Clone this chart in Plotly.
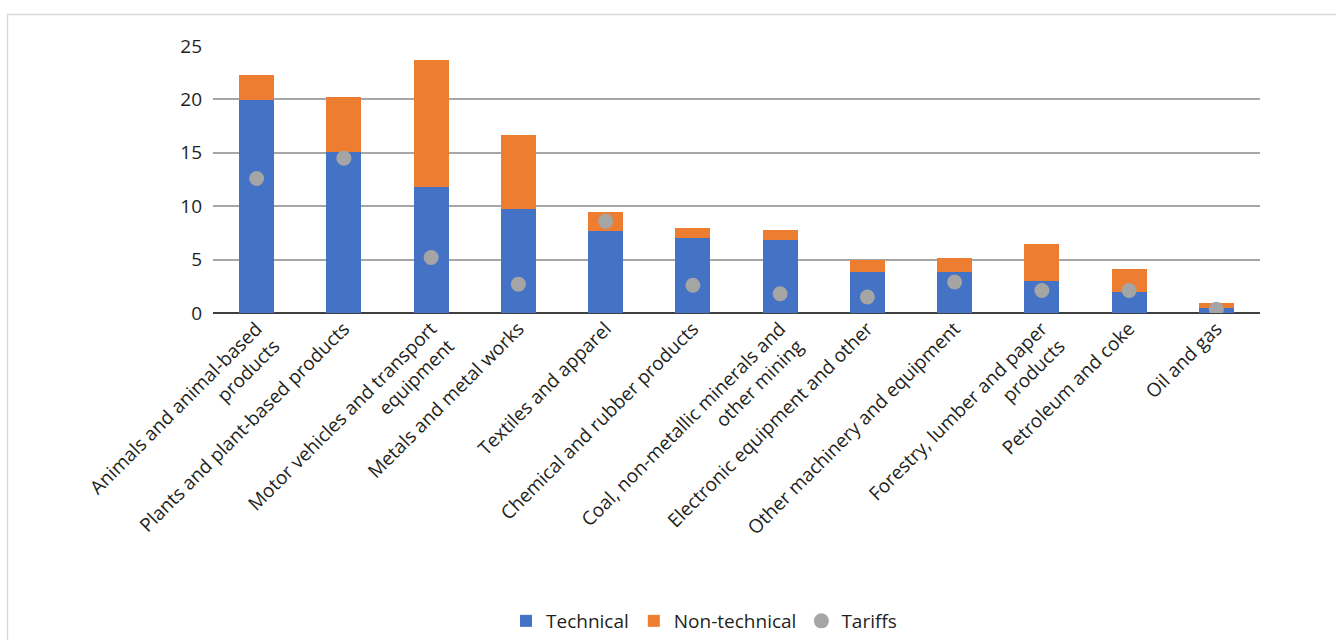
import plotly.graph_objects as go

categories = [
    "Animals and animal-based<br>products",
    "Plants and plant-based products",
    "Motor vehicles and transport<br>equipment",
    "Metals and metal works",
    "Textiles and apparel",
    "Chemical and rubber products",
    "Coal, non-metallic minerals and<br>other mining",
    "Electronic equipment and other",
    "Other machinery and equipment",
    "Forestry, lumber and paper<br>products",
    "Petroleum and coke",
    "Oil and gas",
]
technical = [19.9, 15.1, 11.8, 9.7, 7.7, 7.05, 6.85, 3.8, 3.8, 3.0, 1.95, 0.5]
non_technical = [2.4, 5.1, 11.9, 7.0, 1.75, 0.9, 0.95, 1.2, 1.35, 3.45, 2.2, 0.4]
tariffs = [12.6, 14.5, 5.2, 2.7, 8.6, 2.6, 1.8, 1.5, 2.9, 2.1, 2.1, 0.35]
y_ticks = [0, 5, 10, 15, 20, 25]

FONT = "Open Sans"
TXT = "#231F20"

W, H = 1336, 640
L, R, T, B = 213, 1260, 46, 313  # plot area in pixels

fig = go.Figure()
fig.add_bar(x=categories, y=technical, name="Technical", marker_color="#4472C4",
            marker_line_width=0)
fig.add_bar(x=categories, y=non_technical, name="Non-technical", marker_color="#ED7D31",
            marker_line_width=0)
fig.add_scatter(x=categories, y=tariffs, name="Tariffs", mode="markers",
                marker=dict(color="#A5A5A5", size=15))

def px_x(p):
    return (p - L) / (R - L)

def px_y(p):
    return (B - p) / (B - T)

fig.add_shape(type="rect", xref="paper", yref="paper",
              x0=px_x(7.5), x1=px_x(1345), y0=px_y(14.5), y1=px_y(660),
              line=dict(color="#D9D9D9", width=1.5), fillcolor="rgba(0,0,0,0)", layer="below")

fig.update_layout(
    width=W, height=H,
    margin=dict(l=L, r=W - R, t=T, b=H - B, autoexpand=False),
    barmode="stack", bargap=0.6,
    plot_bgcolor="white", paper_bgcolor="white",
    font=dict(family=FONT, size=19, color=TXT),
    showlegend=True,
    legend=dict(orientation="h", x=px_x(704), xanchor="center", y=px_y(621), yanchor="middle",
                font=dict(size=19, color=TXT), traceorder="normal", itemwidth=30,
                bgcolor="rgba(0,0,0,0)"),
    xaxis=dict(tickangle=-45, showgrid=False, showline=False, ticks="",
               tickfont=dict(size=19, color=TXT), range=[-0.5, 11.5]),
    yaxis=dict(range=[0, 25], tickvals=y_ticks, showgrid=True, gridcolor="#A6A6A6", gridwidth=2,
               zeroline=True, zerolinecolor="#404040", zerolinewidth=2, showline=False,
               ticks="", ticklabelstandoff=10, tickfont=dict(size=19, color=TXT)),
)

fig.write_html("out.html")
